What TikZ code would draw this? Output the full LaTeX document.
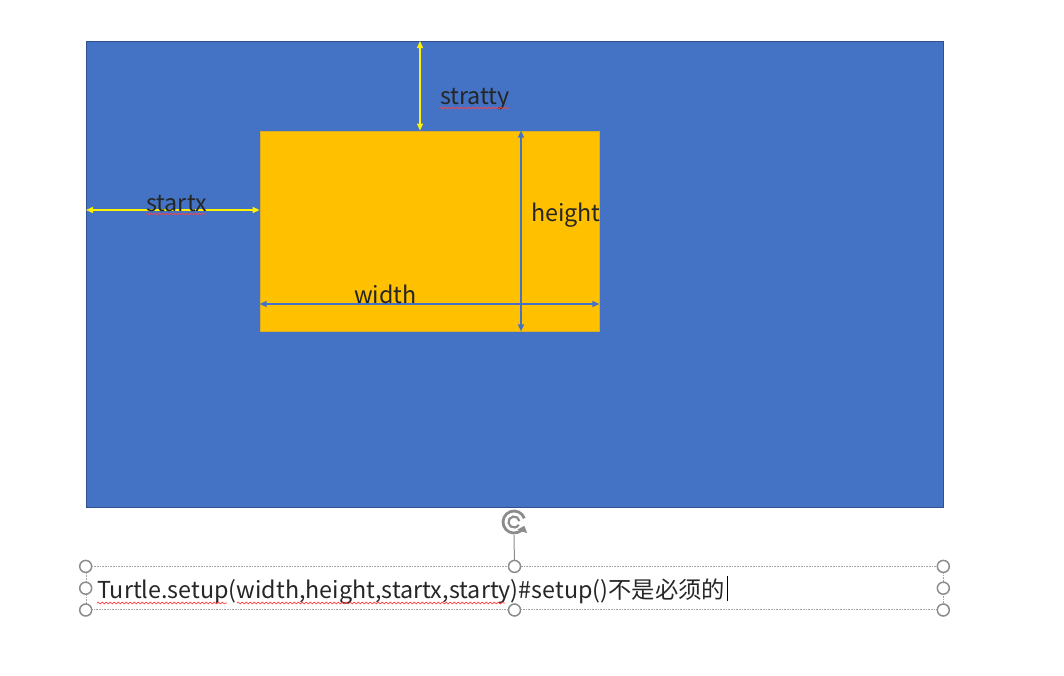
\documentclass[tikz,border=0pt]{standalone}
\usepackage{fontspec}
\setmainfont{Noto Sans CJK SC}
\usetikzlibrary{arrows.meta,positioning,decorations.pathmorphing}
\definecolor{scrblue}{HTML}{4472C4}
\definecolor{scredge}{HTML}{2F528F}
\definecolor{winyellow}{HTML}{FFC000}
\definecolor{handlegray}{HTML}{8C8C8C}
\begin{document}
\begin{tikzpicture}
[x=1pt,y=-1pt,
screen/.style={rectangle,fill=scrblue,draw=scredge,line width=0.8pt,minimum width=857pt,minimum height=466pt,inner sep=0pt},
window/.style={rectangle,fill=winyellow,draw=winyellow!70!gray,line width=0.8pt,minimum width=339pt,minimum height=200pt,inner sep=0pt},
textbox/.style={rectangle,draw=handlegray!80,densely dotted,line width=0.6pt,minimum width=857pt,minimum height=43pt,inner sep=0pt},
ylw/.style={{Triangle[length=7pt,width=6pt]}-{Triangle[length=7pt,width=6pt]},draw=yellow,fill=yellow,line width=1.3pt},
blu/.style={{Triangle[length=7pt,width=6pt]}-{Triangle[length=7pt,width=6pt]},draw=scrblue,fill=scrblue,line width=1.3pt},
lbl/.style={anchor=base west,inner sep=0pt,text=black!85,font=\fontsize{23.3}{26}\selectfont},
spell/.style={draw=red!75,line width=0.7pt,decorate,decoration={snake,segment length=4pt,amplitude=0.9pt}},
handle/.style={circle,draw=handlegray,fill=white,line width=1.5pt,minimum size=12pt,inner sep=0pt}]
\useasboundingbox (0,0) rectangle (1064,675);
\node[screen] (screen) at (514.5,274) {};
\node[window] (window) at (429.5,231) {};
% offsets
\coordinate (sy) at (420,41);
\coordinate (sx) at (86,210);
\draw[ylw] (sy) -- (sy |- window.north);
\draw[ylw] (sx) -- (sx -| window.west);
\node[lbl] (stratty) at (440,104) {stratty};
\node[lbl] (startx) at (146,211) {startx};
\draw[spell] (440,108) -- (509,108);
\draw[spell] (146,214) -- (206,214);
% size of the window
\coordinate (hx) at (521,231);
\coordinate (wy) at (429.5,304);
\draw[blu] (hx |- window.north) -- (hx |- window.south);
\draw[blu] (wy -| window.west) -- (wy -| window.east);
\node[lbl] (height) at (531,221) {height};
\node[lbl] (width) at (354,303) {width};
% code line
\node[textbox] (code) [below=59pt of screen] {};
\node[lbl] (codetext) at (97,598) {Turtle.setup(width,height,startx,starty)\#setup()不是必须的};
\draw[black,line width=0.8pt] (codetext.base east) ++(2,3) -- ++(0,-25);
\draw[spell] (97,603) -- (227,603);
\draw[spell] (237,603) -- (505,603);
% handles
\coordinate (rot) at (514,522);
\draw[handlegray,line width=1pt] (rot) ++(0,13) -- (code.north);
\draw[handlegray,line width=2.8pt,-{Triangle[length=6pt,width=10pt]}] (rot) ++(-20:11) arc[start angle=-20,end angle=-340,radius=11];
\draw[handlegray,line width=2.2pt] (rot) ++(-10:5.5) arc[start angle=-10,end angle=-330,radius=5.5];
\foreach \a in {north west,north,north east,west,east,south west,south,south east}
  \node[handle] at (code.\a) {};
\end{tikzpicture}
\end{document}
